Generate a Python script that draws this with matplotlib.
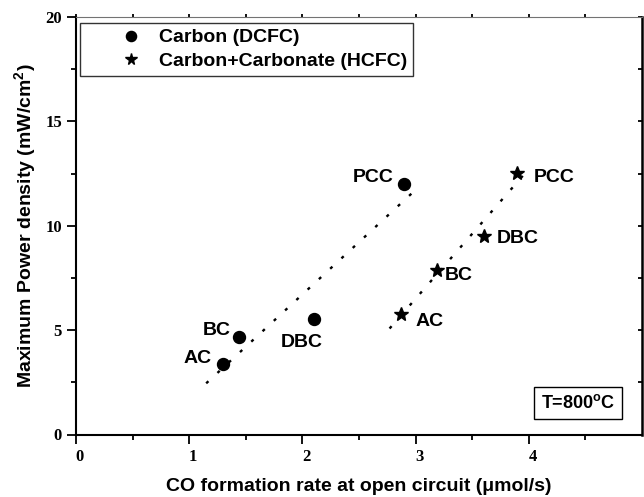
import numpy as np
import matplotlib
matplotlib.use("Agg")
import matplotlib.pyplot as plt
import matplotlib.transforms as mtransforms
from matplotlib.patches import Rectangle
from matplotlib.ticker import MultipleLocator, FixedLocator

# ---- data ----
samples = ["AC", "BC", "DBC", "PCC"]
dcfc_co_rate = [1.30, 1.44, 2.10, 2.90]       # umol/s
dcfc_power = [3.36, 4.66, 5.52, 12.0]         # mW/cm2
hcfc_co_rate = [2.87, 3.19, 3.60, 3.90]
hcfc_power = [5.77, 7.88, 9.53, 12.54]

# x-extent of the linear trend lines
dcfc_fit_range = [1.15, 3.03]
hcfc_fit_range = [2.77, 3.99]

# label offsets in pixels (dx, dy) and horizontal alignment per point
dcfc_label_pos = {"AC": (-12, 6, "right"), "BC": (-8, 7, "right"),
                  "DBC": (-12, -23, "center"), "PCC": (-11, 7, "right")}
hcfc_label_pos = {"AC": (15, -7, "left"), "BC": (8, -5, "left"),
                  "DBC": (13, -3, "left"), "PCC": (16, -5, "left")}

FS = 14

plt.rcParams["font.family"] = ["Liberation Sans", "DejaVu Sans"]
plt.rcParams["font.weight"] = "bold"
plt.rcParams["mathtext.fontset"] = "custom"
plt.rcParams["mathtext.rm"] = "Liberation Sans:bold"
plt.rcParams["mathtext.it"] = "Liberation Sans:bold"
plt.rcParams["mathtext.bf"] = "Liberation Sans:bold"

fig = plt.figure(figsize=(6.44, 4.97), dpi=100)
ax = fig.add_axes([76 / 644, 1 - 434.5 / 497, 566 / 644, 417.5 / 497])

# linear trend lines
for xs, ys, rng in [(dcfc_co_rate, dcfc_power, dcfc_fit_range),
                    (hcfc_co_rate, hcfc_power, hcfc_fit_range)]:
    k, b = np.polyfit(xs, ys, 1)
    xx = np.array(rng)
    ax.plot(xx, k * xx + b, color="black", lw=1.7, linestyle=(0, (1.3, 5.2)),
            dash_capstyle="butt", zorder=2)

ax.plot(dcfc_co_rate, dcfc_power, "o", color="black", ms=8.6, ls="none",
        label="Carbon (DCFC)", zorder=3)
ax.plot(hcfc_co_rate, hcfc_power, "*", color="black", ms=10, ls="none",
        label="Carbon+Carbonate (HCFC)", zorder=3)

for name, x, y in zip(samples, dcfc_co_rate, dcfc_power):
    dx, dy, ha = dcfc_label_pos[name]
    ax.annotate(name, (x, y), xytext=(dx, dy), textcoords="offset pixels",
                ha=ha, va="center", fontsize=FS, fontweight="bold")
for name, x, y in zip(samples, hcfc_co_rate, hcfc_power):
    dx, dy, ha = hcfc_label_pos[name]
    ax.annotate(name, (x, y), xytext=(dx, dy), textcoords="offset pixels",
                ha=ha, va="center", fontsize=FS, fontweight="bold")

ax.set_xlim(0, 5)
ax.set_ylim(0, 20)
ax.xaxis.set_major_locator(FixedLocator([0, 1, 2, 3, 4]))
ax.xaxis.set_minor_locator(FixedLocator([0.5, 1.5, 2.5, 3.5, 4.5]))
ax.yaxis.set_major_locator(MultipleLocator(5))
ax.yaxis.set_minor_locator(MultipleLocator(2.5))

ax.tick_params(axis="both", which="major", direction="out", length=6.5,
               width=1.3, pad=3.6, labelsize=12)
ax.tick_params(axis="both", which="minor", direction="out", length=3.6,
               width=1.3)
ax.tick_params(axis="x", which="both", top=True, labeltop=False)
ax.tick_params(axis="y", which="both", right=True, labelright=False)
for t in ax.xaxis.get_major_ticks() + ax.xaxis.get_minor_ticks():
    t.tick2line.set_markersize(2)
    t.tick2line.set_color("0.4")
for t in ax.yaxis.get_major_ticks() + ax.yaxis.get_minor_ticks():
    t.tick2line.set_marker(0)          # right-side ticks point inward
    t.tick2line.set_markersize(3)
    t.tick2line.set_color("0.3")
shift = mtransforms.ScaledTranslation(4 / 100, 0, fig.dpi_scale_trans)
for lab in ax.get_xticklabels():
    lab.set_transform(lab.get_transform() + shift)
for lab in ax.get_xticklabels() + ax.get_yticklabels():
    lab.set_fontfamily("Liberation Serif")
    lab.set_fontweight("bold")

ax.spines["left"].set_linewidth(1.5)
ax.spines["bottom"].set_linewidth(1.5)
ax.spines["right"].set_linewidth(1.8)
ax.spines["top"].set_linewidth(0.8)
ax.spines["top"].set_color("0.45")

ax.set_xlabel("CO formation rate at open circuit (\u03bcmol/s)", fontsize=FS,
              fontweight="bold", labelpad=10)
ax.set_ylabel(r"Maximum Power density (mW/cm$^2$)", fontsize=FS,
              fontweight="bold", labelpad=5)

leg = ax.legend(loc="upper left", bbox_to_anchor=(4 / 566, 1 - 6 / 417.5),
                borderaxespad=0, fancybox=False, frameon=True, fontsize=FS,
                handlelength=4.6, handletextpad=-0.82, borderpad=0.3,
                labelspacing=0.3, numpoints=1, markerscale=0.85)
leg.get_frame().set_edgecolor("black")
leg.get_frame().set_linewidth(1.0)
for txt in leg.get_texts():
    txt.set_fontweight("bold")

# temperature note in a framed box
ax.add_patch(Rectangle((0.8092, 0.0364), 0.1549, 0.0781, transform=ax.transAxes,
                       fc="white", ec="black", lw=1.0, zorder=4))
ax.text(0.8866, 0.0754, r"T=800$^{\mathrm{o}}$C", transform=ax.transAxes,
        ha="center", va="center", fontsize=13, fontweight="bold", zorder=5)

fig.savefig("out.png", dpi=100, facecolor="white")
